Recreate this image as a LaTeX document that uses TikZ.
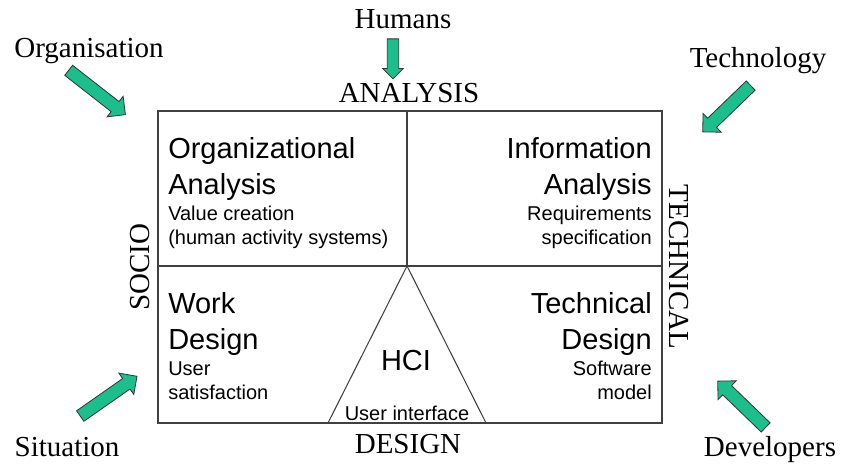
\documentclass[tikz,border=0pt]{standalone}
\usepackage{fontspec}
\setmainfont{Liberation Serif}
\setsansfont{Liberation Sans}
\usepackage{tikz}
\usetikzlibrary{shapes.arrows}
\definecolor{arrowgreen}{RGB}{28,190,140}

\begin{document}
\begin{tikzpicture}[x=0.75pt,y=-0.75pt,
  outerlabel/.style={font=\fontsize{21.75}{26}\selectfont,inner sep=0pt},
  celltitle/.style={font=\sffamily\fontsize{21.75}{27}\selectfont,inner sep=0pt},
  subtext/.style={font=\sffamily\fontsize{15}{18}\selectfont,inner sep=0pt},
  frame/.style={draw=black!75,line width=0.8pt},
  garrow/.style={single arrow,draw=black!80,fill=arrowgreen,line width=0.6pt,
    inner xsep=0pt,inner ysep=4.5pt,minimum width=0pt,single arrow head extend=5pt}]
\useasboundingbox (0,0) rectangle (845,464);

% corners and crossing points
\coordinate (tl) at (158,111);
\coordinate (br) at (662,423);
\coordinate (top) at (407,111);
\coordinate (mid) at (407,266);
\coordinate (left) at (158,266);
\coordinate (right) at (662,266);
\coordinate (baseleft) at (328,423);
\coordinate (baseright) at (486,423);

\draw[frame] (tl) rectangle (br);
\draw[frame] (top) -- (mid);
\draw[frame] (left) -- (right);
\draw[frame] (baseleft) -- (mid) -- (baseright);

% cells (base = last line)
\node[celltitle,anchor=base west,align=left] (orgtitle) at (168,194.5) {Organizational\\Analysis};
\node[subtext,anchor=base west,align=left] (orgsub) at (168,244) {Value creation\\(human activity systems)};
\node[celltitle,anchor=base east,align=right] (infotitle) at (652,194.5) {Information\\Analysis};
\node[subtext,anchor=base east,align=right] (infosub) at (652,244) {Requirements\\specification};
\node[celltitle,anchor=base west,align=left] (worktitle) at (168,349.5) {Work\\Design};
\node[subtext,anchor=base west,align=left] (worksub) at (168,399) {User\\satisfaction};
\node[celltitle,anchor=base east,align=right] (techtitle) at (652,349.5) {Technical\\Design};
\node[subtext,anchor=base east,align=right] (techsub) at (652,399) {Software\\model};
\node[celltitle,anchor=base] (hci) at (406,370.5) {HCI};
\node[subtext,anchor=base] (ui) at (407,420) {User interface};

% sides of the box
\node[outerlabel,anchor=base] (analysis) at (409,102.5) {ANALYSIS};
\node[outerlabel,anchor=base] (design) at (408,453) {DESIGN};
\node[outerlabel,anchor=base,rotate=90] (socio) at (149,267) {SOCIO};
\node[outerlabel,anchor=base,rotate=-90] (technical) at (669,267) {TECHNICAL};

% influences
\node[outerlabel,anchor=base] (humans) at (403,28) {Humans};
\node[outerlabel,anchor=base] (organisation) at (89,57) {Organisation};
\node[outerlabel,anchor=base] (technology) at (758,67) {Technology};
\node[outerlabel,anchor=base] (situation) at (67,456) {Situation};
\node[outerlabel,anchor=base] (developers) at (770,456) {Developers};

\node[garrow,minimum height=30pt,inner ysep=4pt,single arrow head extend=3.5pt,rotate=-90] (humansarrow) at (393,56) {};
\node[garrow,minimum height=54pt,rotate=-38] (orgarrow) at (94.5,90.5) {};
\node[garrow,minimum height=50pt,rotate=-136] (techarrow) at (729,106.5) {};
\node[garrow,minimum height=52pt,rotate=35] (sitarrow) at (106,398) {};
\node[garrow,minimum height=50pt,rotate=136] (devarrow) at (744,406.5) {};
\end{tikzpicture}
\end{document}
